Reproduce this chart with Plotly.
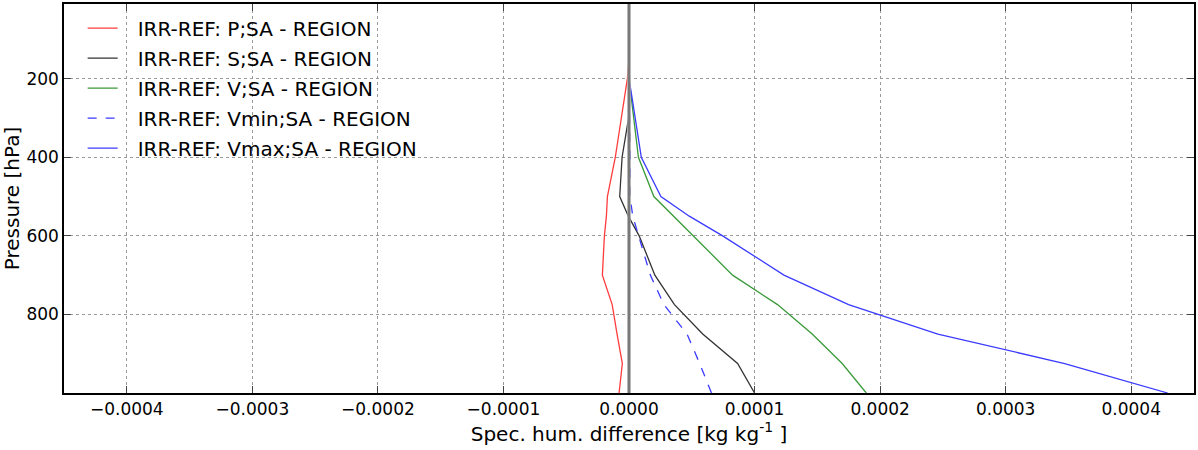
import plotly.graph_objects as go

pressure = [1000, 925, 850, 775, 700, 600, 550, 500, 400, 300, 250, 200, 150, 100, 50, 10]

p_sa = [-0.0000079, -0.0000053, -0.0000095, -0.0000134, -0.0000212, -0.0000196, -0.000018, -0.0000172,
        -0.0000109, -0.0000062, -0.0000035, -0.0000013, 0.0, 0.0, 0.0, 0.0]
s_sa = [0.0001, 0.0000865, 0.0000587, 0.0000362, 0.0000206, 0.0000081, -0.0000005, -0.0000074,
        -0.0000055, -0.0000003, -0.0000001, 0.0, 0.0, 0.0, 0.0, 0.0]
v_sa = [0.000189, 0.0001698, 0.0001459, 0.0001183, 0.0000825, 0.0000508, 0.000035, 0.0000198,
        0.0000075, 0.000004, 0.000002, 0.0, 0.0, 0.0, 0.0, 0.0]
vmin_sa = [0.0000657, 0.0000563, 0.0000462, 0.0000278, 0.000017, 0.0000073, 0.000003, 0.0000008,
           0.000001, 0.0000005, 0.0000002, 0.0, 0.0, 0.0, 0.0, 0.0]
vmax_sa = [0.000429, 0.000347, 0.000246, 0.0001749, 0.0001234, 0.0000746, 0.000048, 0.0000254,
           0.0000098, 0.0000053, 0.0000025, 0.0, 0.0, 0.0, 0.0, 0.0]

x_ticks = [-0.0004, -0.0003, -0.0002, -0.0001, 0.0, 0.0001, 0.0002, 0.0003, 0.0004]
x_ticklabels = ["\u22120.0004", "\u22120.0003", "\u22120.0002", "\u22120.0001", "0.0000",
                "0.0001", "0.0002", "0.0003", "0.0004"]
y_ticks = [200, 400, 600, 800]

series = [
    ("IRR-REF: P;SA - REGION", p_sa, "#ff3b3b", "solid"),
    ("IRR-REF: S;SA - REGION", s_sa, "#333333", "solid"),
    ("IRR-REF: V;SA - REGION", v_sa, "#3a9a3a", "solid"),
    ("IRR-REF: Vmin;SA - REGION", vmin_sa, "#3b3bff", "dash"),
    ("IRR-REF: Vmax;SA - REGION", vmax_sa, "#3b3bff", "solid"),
]

fig = go.Figure()
for i, (name, vals, col, dash) in enumerate(series):
    fig.add_trace(go.Scatter(x=vals, y=pressure, mode="lines", name="\u2002\u2005" + name,
                             legendgroup=f"g{i}",
                             line=dict(color=col, width=1.3, dash=dash)))

# zero reference line
fig.add_shape(type="line", xref="x", yref="paper", x0=0, x1=0, y0=0, y1=1,
              line=dict(color="#a0a0a0", width=3.5), layer="above")
fig.add_shape(type="line", xref="x", yref="paper", x0=0, x1=0, y0=0, y1=1,
              line=dict(color="#505050", width=1), layer="above")

font = "DejaVu Sans"
fig.update_layout(
    width=1198, height=450,
    margin=dict(l=64, r=2, t=3, b=57),
    paper_bgcolor="white", plot_bgcolor="white",
    font=dict(family=font, color="black", size=17),
    showlegend=True,
    legend=dict(x=0.0165, y=0.988, xanchor="left", yanchor="top",
                bgcolor="rgba(255,255,255,0)", borderwidth=0,
                font=dict(size=20, family=font), itemwidth=30,
                traceorder="grouped", tracegroupgap=1),
    xaxis=dict(range=[-0.00045, 0.00045], tickvals=x_ticks, ticktext=x_ticklabels,
               showgrid=True, gridcolor="#9a9a9a", griddash="dot", gridwidth=1,
               zeroline=False, showline=True, linecolor="black", linewidth=1.5,
               mirror="ticks", ticks="inside", ticklen=7, tickcolor="#444",
               tickfont=dict(size=17),
               title=dict(text="Spec. hum. difference [kg kg<sup>-1</sup> ]",
                          font=dict(size=20), standoff=0)),
    yaxis=dict(range=[1000, 10], tickvals=y_ticks,
               showgrid=True, gridcolor="#9a9a9a", griddash="dot", gridwidth=1,
               zeroline=False, showline=True, linecolor="black", linewidth=1.5,
               mirror="ticks", ticks="inside", ticklen=7, tickcolor="#444",
               tickfont=dict(size=17),
               title=dict(text="Pressure [hPa]", font=dict(size=20), standoff=4)),
)

fig.write_html("out.html", config={"displayModeBar": False},
               post_script="document.body.style.margin='0';")
